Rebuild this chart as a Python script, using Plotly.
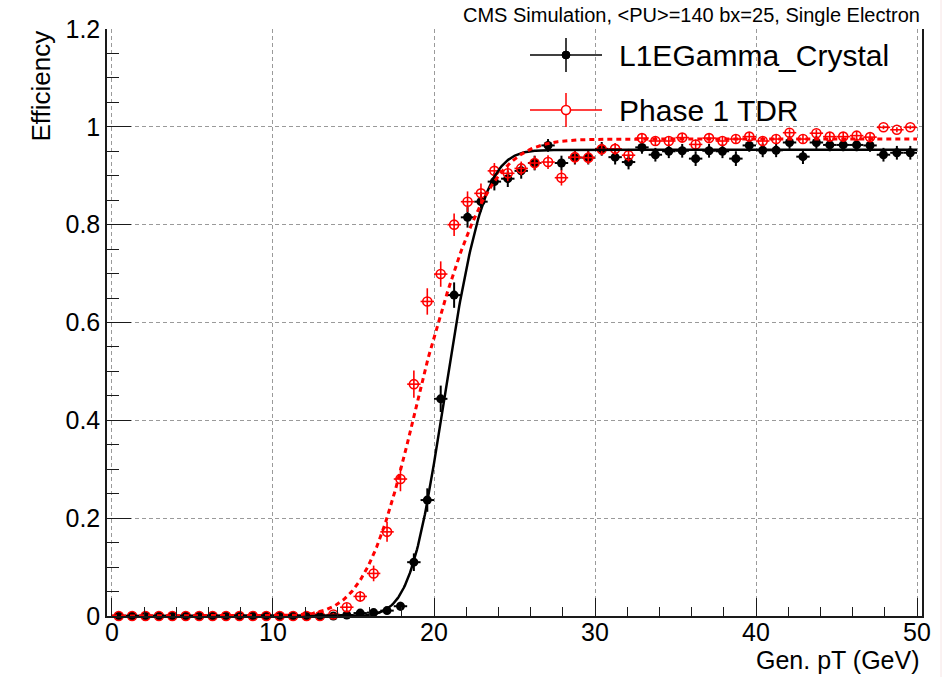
import math
import numpy as np
import plotly.graph_objects as go

# Generated-electron pT binning (GeV)
pt_min, pt_max, n_bins = 0.0, 50.0, 60

# L1EGamma_Crystal efficiency per pT bin and its uncertainty
eff_crystal = [
    0.0, 0.0, 0.0, 0.0, 0.0, 0.0, 0.0, 0.0, 0.0, 0.0,
    0.0, 0.0, 0.0, 0.0, 0.0, 0.0, 0.0, 0.002, 0.006, 0.007,
    0.011, 0.020, 0.110, 0.237, 0.444, 0.656, 0.815, 0.847, 0.888, 0.894,
    0.910, 0.926, 0.962, 0.926, 0.937, 0.937, 0.955, 0.938, 0.928, 0.958,
    0.943, 0.950, 0.951, 0.935, 0.951, 0.950, 0.935, 0.962, 0.952, 0.952,
    0.968, 0.939, 0.968, 0.963, 0.963, 0.963, 0.962, 0.943, 0.947, 0.947,
]
err_crystal = [
    0.0, 0.0, 0.0, 0.0, 0.0, 0.0, 0.0, 0.0, 0.0, 0.0,
    0.0, 0.0, 0.0, 0.0, 0.0, 0.0, 0.0, 0.003, 0.005, 0.005,
    0.007, 0.009, 0.018, 0.024, 0.027, 0.026, 0.021, 0.020, 0.018, 0.017,
    0.016, 0.015, 0.013, 0.015, 0.014, 0.014, 0.014, 0.015, 0.015, 0.013,
    0.014, 0.014, 0.014, 0.015, 0.014, 0.014, 0.015, 0.013, 0.014, 0.014,
    0.013, 0.015, 0.013, 0.013, 0.013, 0.013, 0.013, 0.014, 0.014, 0.014,
]

# Phase 1 TDR efficiency per pT bin and its uncertainty
eff_tdr = [
    0.0, 0.0, 0.0, 0.0, 0.0, 0.0, 0.0, 0.0, 0.0, 0.0,
    0.0, 0.0, 0.0, 0.0, 0.0, 0.0, 0.003, 0.018, 0.040, 0.087,
    0.172, 0.280, 0.474, 0.643, 0.699, 0.800, 0.847, 0.864, 0.910, 0.905,
    0.915, 0.926, 0.928, 0.896, 0.938, 0.937, 0.954, 0.955, 0.942, 0.977,
    0.971, 0.971, 0.978, 0.964, 0.977, 0.971, 0.975, 0.980, 0.971, 0.975,
    0.988, 0.975, 0.987, 0.980, 0.980, 0.982, 0.979, 0.999, 0.994, 0.999,
]
err_tdr = [
    0.0, 0.0, 0.0, 0.0, 0.0, 0.0, 0.0, 0.0, 0.0, 0.0,
    0.0, 0.0, 0.0, 0.0, 0.0, 0.0, 0.003, 0.008, 0.011, 0.016,
    0.020, 0.025, 0.028, 0.027, 0.026, 0.023, 0.021, 0.020, 0.016, 0.016,
    0.014, 0.014, 0.014, 0.016, 0.013, 0.013, 0.012, 0.012, 0.013, 0.009,
    0.009, 0.009, 0.009, 0.010, 0.009, 0.009, 0.009, 0.009, 0.009, 0.009,
    0.007, 0.009, 0.007, 0.008, 0.008, 0.008, 0.008, 0.004, 0.005, 0.004,
]

# Turn-on fit results: plateau, 50% point and resolution below/above it
fit_crystal = dict(plateau=0.953, mu=20.76, sigma_lo=1.70, sigma_hi=1.90)
fit_tdr = dict(plateau=0.975, mu=19.30, sigma_lo=2.70, sigma_hi=3.30)

x_tick_vals = [0, 10, 20, 30, 40, 50]
y_tick_vals = [0, 0.2, 0.4, 0.6, 0.8, 1.0, 1.2]

title_text = "CMS Simulation, &lt;PU&gt;=140 bx=25, Single Electron"
labels = ["L1EGamma_Crystal", "Phase 1 TDR"]

FONT = "Liberation Sans, Arial, Helvetica, sans-serif"
RED = "#ff0000"

edges = np.linspace(pt_min, pt_max, n_bins + 1)
centers = 0.5 * (edges[:-1] + edges[1:])
half_width = 0.5 * np.diff(edges)


def turn_on(x, plateau, mu, sigma_lo, sigma_hi):
    s = sigma_lo if x < mu else sigma_hi
    return plateau * 0.5 * (1.0 + math.erf((x - mu) / (math.sqrt(2.0) * s)))


x_fit = np.linspace(pt_min, pt_max, 801)
y_fit_crystal = [turn_on(x, **fit_crystal) for x in x_fit]
y_fit_tdr = [turn_on(x, **fit_tdr) for x in x_fit]

fig = go.Figure()

# Efficiency points with bin-width horizontal bars
fig.add_trace(go.Scatter(
    x=centers, y=eff_crystal, mode="markers", cliponaxis=False,
    marker=dict(symbol="circle", size=9, color="black"),
    error_y=dict(type="data", array=err_crystal, width=0, thickness=2, color="black"),
    error_x=dict(type="data", array=half_width, width=0, thickness=2, color="black"),
    showlegend=False,
))
fig.add_trace(go.Scatter(
    x=centers, y=eff_tdr, mode="markers", cliponaxis=False,
    marker=dict(symbol="circle-open", size=9, color=RED, line=dict(width=1.6, color=RED)),
    error_y=dict(type="data", array=err_tdr, width=0, thickness=1.6, color=RED),
    error_x=dict(type="data", array=half_width, width=0, thickness=1.6, color=RED),
    showlegend=False,
))

# Fitted turn-on curves
fig.add_trace(go.Scatter(
    x=x_fit, y=y_fit_crystal, mode="lines",
    line=dict(color="black", width=2.5), showlegend=False, hoverinfo="skip",
))
fig.add_trace(go.Scatter(
    x=x_fit, y=y_fit_tdr, mode="lines",
    line=dict(color=RED, width=3, dash="5px,4px"), showlegend=False, hoverinfo="skip",
))

# Plot frame geometry in pixels (for legend placement)
W, H = 951, 677
L, R, T, B = 107, 29, 29, 61
pw, ph = W - L - R, H - T - B


def px(xp):
    return (xp - L) / pw


def py(yp):
    return (H - B - yp) / ph


shapes = []
annotations = []

# Legend entries drawn as ROOT-style markers with error crosses
legend_rows = [
    (55, "black", "circle", labels[0]),
    (110, RED, "open", labels[1]),
]
for yrow, col, kind, lab in legend_rows:
    shapes.append(dict(type="line", xref="paper", yref="paper",
                       x0=px(530), x1=px(602), y0=py(yrow), y1=py(yrow),
                       line=dict(color=col, width=1.5)))
    shapes.append(dict(type="line", xref="paper", yref="paper",
                       x0=px(566), x1=px(566), y0=py(yrow - 17), y1=py(yrow + 17),
                       line=dict(color=col, width=1.5)))
    if kind == "circle":
        shapes.append(dict(type="circle", xref="paper", yref="paper",
                           xsizemode="pixel", ysizemode="pixel",
                           xanchor=px(566), yanchor=py(yrow),
                           x0=-4, x1=4, y0=-4, y1=4,
                           fillcolor=col, line=dict(color=col, width=1)))
    else:
        shapes.append(dict(type="circle", xref="paper", yref="paper",
                           xsizemode="pixel", ysizemode="pixel",
                           xanchor=px(566), yanchor=py(yrow),
                           x0=-4.5, x1=4.5, y0=-4.5, y1=4.5,
                           fillcolor="white", line=dict(color=col, width=1.6)))
    annotations.append(dict(text=lab, xref="paper", yref="paper",
                            x=px(617), y=py(yrow), xanchor="left", yanchor="middle",
                            showarrow=False, font=dict(family=FONT, size=30, color="black")))

# Header text
annotations.append(dict(text=title_text, xref="paper", yref="paper",
                        x=1.0, y=py(15), xanchor="right", yanchor="middle",
                        showarrow=False, font=dict(family=FONT, size=20, color="black")))

# Axis titles, right-aligned as in ROOT
annotations.append(dict(text="Gen. pT (GeV)", xref="paper", yref="paper",
                        x=1.0, y=py(660), xanchor="right", yanchor="middle",
                        showarrow=False, font=dict(family=FONT, size=25, color="black")))
annotations.append(dict(text="Efficiency", xref="paper", yref="paper",
                        x=px(40), y=1.0, xanchor="center", yanchor="top",
                        textangle=-90, showarrow=False,
                        font=dict(family=FONT, size=26, color="black")))

# Faint outer border at the right edge of the canvas
shapes.append(dict(type="line", xref="paper", yref="paper",
                   x0=px(941), x1=px(941), y0=py(H), y1=py(0),
                   line=dict(color="#f6e4e4", width=1)))

axis_common = dict(
    showline=True, linecolor="#1a1a1a", linewidth=1.5,
    ticks="inside", tickcolor="#1a1a1a", tickwidth=1.2,
    showgrid=True, gridcolor="#9a9a9a", gridwidth=1, griddash="4px,3px",
    zeroline=False,
    tickfont=dict(family=FONT, size=25, color="black"),
)

fig.update_layout(
    width=W, height=H, autosize=False,
    margin=dict(l=L, r=R, t=T, b=B, pad=0),
    paper_bgcolor="white", plot_bgcolor="white",
    font=dict(family=FONT, color="black"),
    showlegend=False,
    shapes=shapes, annotations=annotations,
    xaxis=dict(
        range=[-0.31, 50.31], tickmode="array", tickvals=x_tick_vals,
        ticklen=18, mirror=False, ticklabelstandoff=-7,
        minor=dict(dtick=2, tick0=0, ticks="inside", ticklen=9,
                   tickcolor="#1a1a1a", tickwidth=1.2, showgrid=False),
        **axis_common,
    ),
    yaxis=dict(
        range=[0, 1.2], tickmode="array", tickvals=y_tick_vals,
        ticklen=24, mirror=True,
        minor=dict(dtick=0.05, tick0=0, ticks="inside", ticklen=12,
                   tickcolor="#1a1a1a", tickwidth=1.2, showgrid=False),
        **axis_common,
    ),
)

fig.write_html("out.html")
